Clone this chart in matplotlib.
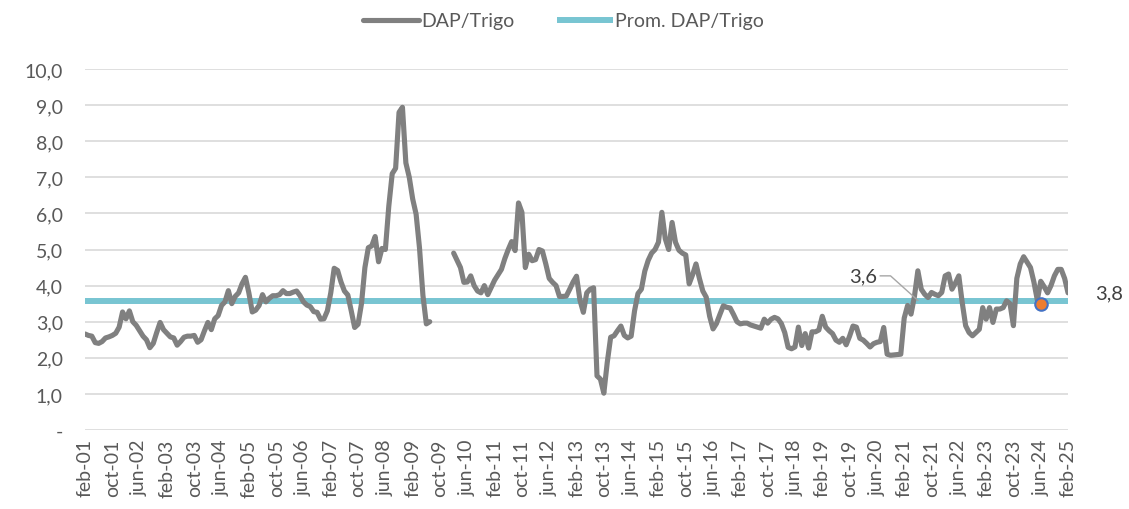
""" Relación de precios DAP/Trigo, feb-01 a feb-25 """

import numpy as np
import matplotlib
matplotlib.use('Agg')
import matplotlib.pyplot as plt

# Datos mensuales (feb-01 ... feb-25); NaN = sin dato
dap_trigo = [
    # feb-01 .. ene-02
    2.66, 2.62, 2.60, 2.42, 2.40, 2.45, 2.55, 2.58, 2.62, 2.68, 2.85, 3.27,
    # feb-02 .. ene-03
    3.08, 3.30, 3.00, 2.90, 2.75, 2.60, 2.50, 2.28, 2.40, 2.70, 2.98, 2.78,
    # feb-03 .. ene-04
    2.68, 2.58, 2.55, 2.35, 2.45, 2.57, 2.60, 2.60, 2.62, 2.43, 2.50, 2.75,
    # feb-04 .. ene-05
    2.98, 2.78, 3.08, 3.17, 3.45, 3.55, 3.86, 3.50, 3.70, 3.80, 4.05, 4.23,
    # feb-05 .. ene-06
    3.80, 3.27, 3.32, 3.45, 3.75, 3.55, 3.65, 3.72, 3.72, 3.75, 3.86, 3.78,
    # feb-06 .. ene-07
    3.78, 3.82, 3.85, 3.72, 3.55, 3.46, 3.42, 3.28, 3.26, 3.07, 3.08, 3.30,
    # feb-07 .. ene-08
    3.80, 4.48, 4.42, 4.10, 3.85, 3.74, 3.30, 2.84, 2.93, 3.50, 4.50, 5.05,
    # feb-08 .. ene-09
    5.10, 5.36, 4.66, 5.03, 5.00, 6.20, 7.10, 7.25, 8.80, 8.94, 7.40, 7.00,
    # feb-09 .. ene-10
    6.40, 5.98, 5.04, 3.73, 2.94, 3.00, np.nan, np.nan, np.nan, np.nan, np.nan, np.nan,
    # feb-10 .. ene-11
    4.90, 4.70, 4.50, 4.09, 4.10, 4.27, 4.00, 3.85, 3.80, 4.00, 3.75, 3.95,
    # feb-11 .. ene-12
    4.15, 4.30, 4.45, 4.75, 5.00, 5.22, 4.97, 6.29, 6.03, 4.50, 4.87, 4.69,
    # feb-12 .. ene-13
    4.72, 5.00, 4.96, 4.60, 4.20, 4.09, 4.00, 3.70, 3.70, 3.71, 3.90, 4.10,
    # feb-13 .. ene-14
    4.26, 3.60, 3.26, 3.80, 3.90, 3.94, 1.50, 1.41, 1.02, 1.87, 2.57, 2.61,
    # feb-14 .. ene-15
    2.75, 2.88, 2.62, 2.55, 2.60, 3.30, 3.78, 3.90, 4.40, 4.70, 4.90, 5.00,
    # feb-15 .. ene-16
    5.20, 6.03, 5.30, 5.00, 5.75, 5.20, 4.98, 4.90, 4.85, 4.05, 4.30, 4.60,
    # feb-16 .. ene-17
    4.20, 3.85, 3.68, 3.15, 2.80, 2.95, 3.20, 3.44, 3.40, 3.38, 3.20, 3.00,
    # feb-17 .. ene-18
    2.94, 2.96, 2.96, 2.91, 2.88, 2.85, 2.82, 3.07, 2.96, 3.07, 3.12, 3.08,
    # feb-18 .. ene-19
    2.95, 2.70, 2.29, 2.25, 2.30, 2.85, 2.34, 2.67, 2.27, 2.72, 2.72, 2.77,
    # feb-19 .. ene-20
    3.15, 2.85, 2.75, 2.67, 2.49, 2.43, 2.54, 2.36, 2.60, 2.88, 2.85, 2.54,
    # feb-20 .. ene-21
    2.49, 2.40, 2.30, 2.39, 2.43, 2.45, 2.84, 2.10, 2.07, 2.08, 2.09, 2.10,
    # feb-21 .. ene-22
    3.10, 3.45, 3.21, 3.70, 4.41, 3.90, 3.76, 3.67, 3.81, 3.76, 3.72, 3.81,
    # feb-22 .. ene-23
    4.27, 4.32, 3.90, 4.07, 4.27, 3.53, 2.89, 2.70, 2.61, 2.70, 2.79, 3.39,
    # feb-23 .. ene-24
    3.07, 3.39, 2.98, 3.35, 3.35, 3.39, 3.58, 3.50, 2.89, 4.20, 4.60, 4.80,
    # feb-24 .. ene-25
    4.65, 4.50, 4.10, 3.60, 4.12, 3.97, 3.80, 4.00, 4.27, 4.45, 4.45, 4.20,
    # feb-25
    3.80,
]
promedio = 3.56
promedio_label = '3,6'
ultimo_label = '3,8'
marker_idx = 280          # jun-24
marker_value = 3.50

tick_labels = ['feb-01', 'oct-01', 'jun-02', 'feb-03', 'oct-03', 'jun-04',
               'feb-05', 'oct-05', 'jun-06', 'feb-07', 'oct-07', 'jun-08',
               'feb-09', 'oct-09', 'jun-10', 'feb-11', 'oct-11', 'jun-12',
               'feb-13', 'oct-13', 'jun-14', 'feb-15', 'oct-15', 'jun-16',
               'feb-17', 'oct-17', 'jun-18', 'feb-19', 'oct-19', 'jun-20',
               'feb-21', 'oct-21', 'jun-22', 'feb-23', 'oct-23', 'jun-24',
               'feb-25']
y_ticks = [0, 1, 2, 3, 4, 5, 6, 7, 8, 9, 10]
y_labels = ['-', '1,0', '2,0', '3,0', '4,0', '5,0', '6,0', '7,0', '8,0', '9,0', '10,0']

# Estilo ---------------------------------
plt.rcParams['font.family'] = ['Lato', 'DejaVu Sans']
text_color = '#595959'
gray = '#808080'
teal = '#78C5D2'

y = np.array(dap_trigo, dtype=float)
x = np.arange(len(y))

fig = plt.figure(figsize=(11.29, 5.10), dpi=100)
ax = fig.add_axes([0.0753, 0.1549, 0.8707, 0.7078])

prom_line, = ax.plot(x, np.full(len(x), promedio), color=teal, lw=4.3,
                     solid_capstyle='butt', zorder=3)
dap_line, = ax.plot(x, y, color=gray, lw=3.7, solid_joinstyle='round',
                    solid_capstyle='round', zorder=4)
ax.plot([marker_idx], [marker_value], 'o', ms=9, mfc='#ED7D31', mec='#4472C4',
        mew=1.5, zorder=5)

# Etiqueta del promedio con línea guía
ax.plot([233, 236, 244], [4.27, 4.27, 3.59], color='#A6A6A6', lw=1.0, zorder=6)
ax.text(232, 4.27, promedio_label, ha='right', va='center', fontsize=14.5,
        color='#404040')
ax.text(len(y) + 7, 3.8, ultimo_label, ha='left', va='center', fontsize=14.5,
        color='#404040', clip_on=False)

ax.set_xlim(0, len(y) - 1)
ax.set_ylim(0, 10)
ax.set_yticks(y_ticks)
ax.set_yticklabels(y_labels)
ax.set_xticks(np.arange(0, len(y), 8))
ax.set_xticklabels(tick_labels, rotation=90)
ax.tick_params(axis='both', length=0, labelsize=14, colors=text_color)
ax.tick_params(axis='y', pad=16)
ax.tick_params(axis='x', pad=6)

ax.grid(axis='y', color='#D9D9D9', lw=1.2)
ax.set_axisbelow(True)
for s in ax.spines.values():
    s.set_visible(False)

fig.legend([dap_line, prom_line], ['DAP/Trigo', 'Prom. DAP/Trigo'],
           loc='upper center', bbox_to_anchor=(0.499, 1.008), ncol=2,
           frameon=False, fontsize=14, handlelength=2.9, handletextpad=0.1,
           columnspacing=2.2, labelcolor=text_color)

fig.savefig('out.png', dpi=100)
